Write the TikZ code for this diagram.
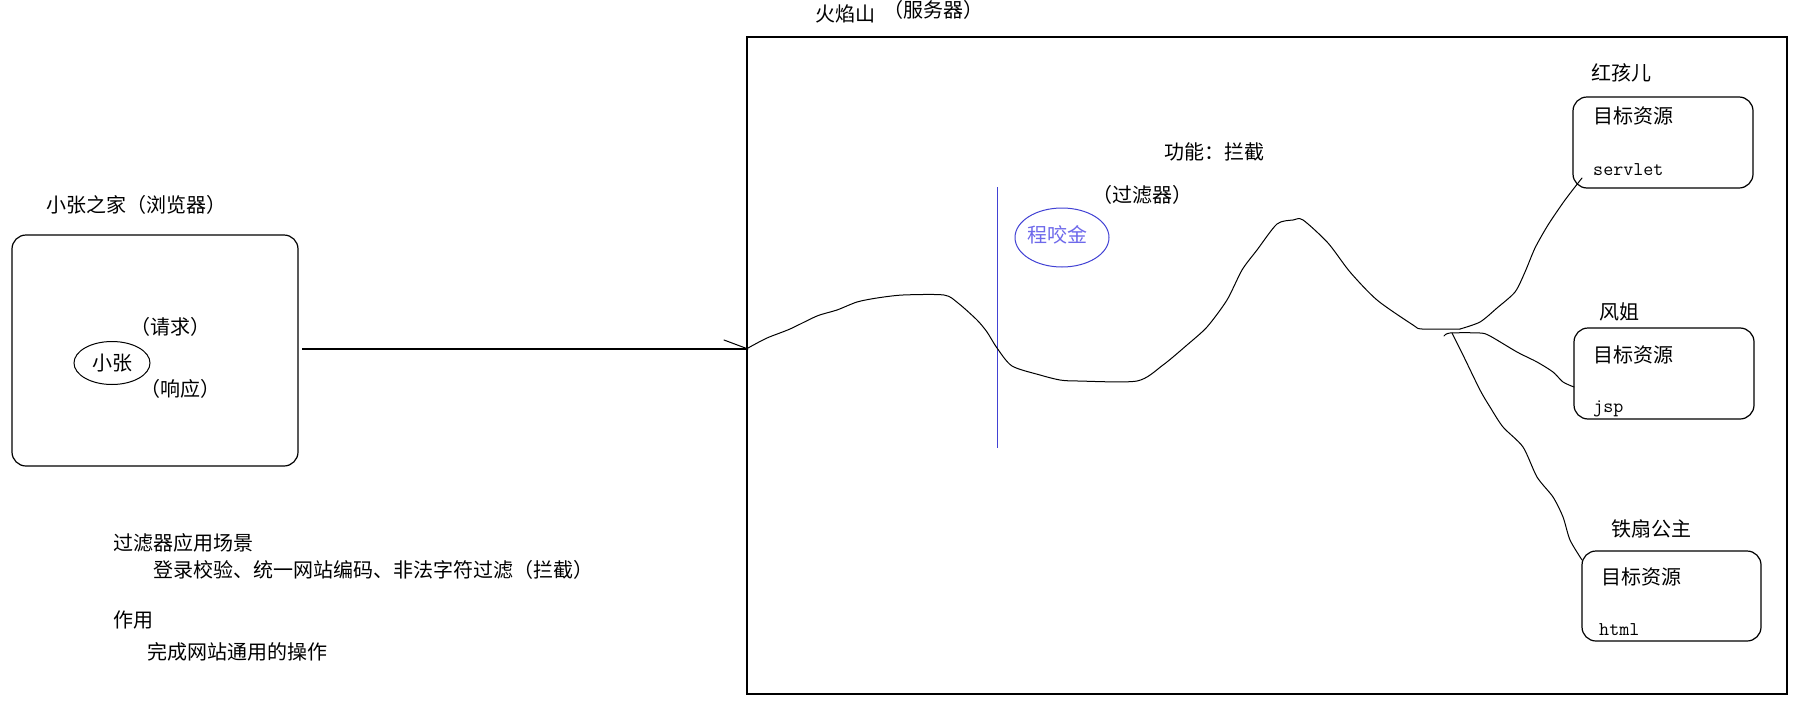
\documentclass[tikz,border=0pt]{standalone}
\usepackage{fontspec}
\setmainfont{Noto Sans CJK SC}
\usetikzlibrary{shapes.geometric}
\definecolor{penblue}{RGB}{66,66,212}
\definecolor{textblue}{RGB}{110,105,235}
\tikzset{
  txt/.style={inner sep=0pt, font=\fontsize{20}{24}\selectfont, anchor=west},
  txtc/.style={inner sep=0pt, font=\fontsize{20}{24}\selectfont, anchor=center},
  mono/.style={inner sep=0pt, font=\ttfamily\fontsize{19.5}{22}\selectfont, anchor=base west},
  rbox/.style={draw, rounded corners=14pt, line width=1.2pt, inner sep=0pt},
  sqbox/.style={draw, line width=1.2pt, inner sep=0pt},
  ell/.style={draw, ellipse, line width=1pt, inner sep=0pt, font=\fontsize{20}{24}\selectfont},
  bell/.style={draw=penblue, ellipse, line width=1pt, inner sep=0pt},
  wire/.style={line width=1pt, line join=round, line cap=round},
  hline/.style={line width=1.3pt}
}
\begin{document}
\begin{tikzpicture}[x=1pt,y=-1pt]
\useasboundingbox (0,0) rectangle (1817,720);
\fill[white] (0,0) rectangle (1817,720);

% browser side
\node[txt] (hometitle) at (46,205) {小张之家（浏览器）};
\node[rbox, minimum width=286pt, minimum height=231pt] (home) at (155,350.5) {};
\node[ell, minimum width=76pt, minimum height=43pt] (zhang) at (112,363) {小张};
\node[txtc] (req) at (170,327) {（请求）};
\node[txtc] (resp) at (180,389) {（响应）};

% server box
\node[sqbox, minimum width=1040pt, minimum height=657pt] (server) at (1267,365.5) {};
\node[txt] (fire) at (815,14) {火焰山};
\node[txtc] (servlabel) at (933,10) {（服务器）};

% request line
\coordinate (reqstart) at (302,349);
\coordinate (reqend) at (748,349);
\coordinate (hook) at (724,340);
\draw[hline] (reqstart) -- (reqend);
\draw[wire] (hook) -- (reqend);

% filter
\node[txtc] (func) at (1214,152) {功能：拦截};
\node[txtc] (filt) at (1142.5,195) {（过滤器）};
\node[bell, minimum width=94pt, minimum height=59pt] (cyj) at (1062,237.5) {};
\node[txtc, text=textblue] (cyjt) at (1057,235) {程咬金};
\coordinate (ftop) at (997,187);
\coordinate (fbot) at (997,448);
\draw[penblue, line width=1pt] (ftop) -- (fbot);

% target resources
\node[rbox, minimum width=180pt, minimum height=91pt] (r1) at (1663,142.5) {};
\node[txt] (r1name) at (1591,73) {红孩儿};
\node[txt] (r1a) at (1593,116) {目标资源};
\node[mono] (r1b) at (1593,175) {servlet};

\node[rbox, minimum width=180pt, minimum height=91pt] (r2) at (1664,373.5) {};
\node[txt] (r2name) at (1599,312) {风姐};
\node[txt] (r2a) at (1593,355) {目标资源};
\node[mono] (r2b) at (1593,412) {jsp};

\node[rbox, minimum width=179pt, minimum height=90pt] (r3) at (1671.5,596) {};
\node[txt] (r3name) at (1611,529) {铁扇公主};
\node[txt] (r3a) at (1601,577) {目标资源};
\node[mono] (r3b) at (1599,635) {html};

% path through the server
\coordinate (split) at (1460,329);
\coordinate (end1) at (1582,178);
\coordinate (end2) at (1574,387);
\coordinate (end3) at (1582,560);
\draw[wire] plot[smooth, tension=0.45] coordinates {
 (748,348) (767,338) (790,329) (817,316) (837,310) (857,302) (877,298) (903,295)
 (944,295) (958,303) (977,320) (987,332) (997,348) (1012,366) (1040,375) (1060,380)
 (1078,381) (1137,381) (1163,365) (1187,345) (1207,327) (1227,300) (1242,270)
 (1257,250) (1277,224) (1293,220) (1303,220) (1328,243) (1350,272) (1377,300)
 (1413,325) (1422,329) (1460,329)};
\draw[wire] plot[smooth, tension=0.45] coordinates {
 (1460,329) (1480,322) (1497,308) (1515,292) (1525,272) (1535,248) (1548,225) (1565,200) (1582,178)};
\draw[wire] plot[smooth, tension=0.45] coordinates {
 (1444,336) (1450,333) (1480,333) (1490,336) (1517,352) (1537,362) (1553,372) (1563,382) (1574,387)};
\draw[wire] plot[smooth, tension=0.45] coordinates {
 (1452,333) (1462,353) (1480,390) (1490,407) (1503,427) (1523,447) (1537,477) (1553,497) (1563,517) (1570,540) (1582,560)};

% notes
\node[txt] (n1) at (113,543) {过滤器应用场景};
\node[txt] (n2) at (153,570) {登录校验、统一网站编码、非法字符过滤（拦截）};
\node[txt] (n3) at (113,620) {作用};
\node[txt] (n4) at (147,652) {完成网站通用的操作};
\end{tikzpicture}
\end{document}
